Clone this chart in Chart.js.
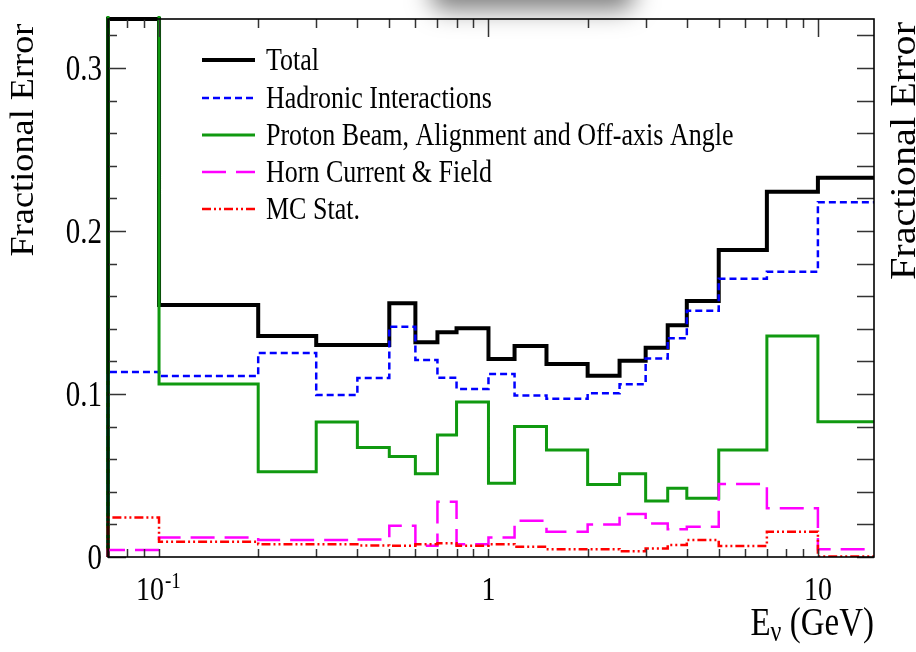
<!DOCTYPE html>
<html>
<head>
<meta charset="utf-8">
<script src="https://cdn.jsdelivr.net/npm/chart.js@4/dist/chart.umd.min.js"></script>
<style>
  html, body { margin: 0; padding: 0; background: #fff; }
  canvas { display: block; }
</style>
</head>
<body>
<canvas id="fluxErr" width="916" height="652"></canvas>
<script>
// bin edges in GeV (log x axis)
var binEdges = [0.07, 0.1, 0.2, 0.3, 0.4, 0.5, 0.6, 0.7, 0.8, 1.0, 1.2, 1.5, 2.0, 2.5, 3.0, 3.5, 4.0, 5.0, 7.0, 10.0, 15.0];

var seriesNames = ['Total', 'Hadronic Interactions', 'Proton Beam, Alignment and Off-axis Angle', 'Horn Current & Field', 'MC Stat.'];

var totalErr    = [0.33, 0.1546, 0.1356, 0.130, 0.130, 0.1556, 0.1317, 0.1379, 0.1403, 0.1215, 0.1294, 0.1184, 0.1112, 0.1204, 0.1284, 0.1421, 0.157, 0.1883, 0.2241, 0.2327];
var hadronErr   = [0.1135, 0.111, 0.1252, 0.0994, 0.1098, 0.1413, 0.1209, 0.110, 0.1031, 0.1123, 0.099, 0.0971, 0.1004, 0.106, 0.1217, 0.1342, 0.1511, 0.1706, 0.175, 0.2176];
var protonErr   = [0.40, 0.1061, 0.0523, 0.0828, 0.0671, 0.0616, 0.0511, 0.0748, 0.0951, 0.0452, 0.080, 0.0656, 0.0444, 0.0511, 0.0344, 0.0421, 0.036, 0.0656, 0.1356, 0.083];
var hornErr     = [0.0043, 0.0119, 0.0104, 0.0104, 0.0108, 0.0192, 0.0069, 0.0339, 0.0078, 0.0119, 0.0223, 0.0155, 0.020, 0.0264, 0.0205, 0.017, 0.0186, 0.0448, 0.0299, 0.0047];
var mcStatErr   = [0.0243, 0.0094, 0.0078, 0.0078, 0.0071, 0.0069, 0.0078, 0.0084, 0.0069, 0.0078, 0.0063, 0.0047, 0.0047, 0.0035, 0.0052, 0.0074, 0.0104, 0.0067, 0.0155, 0.0003];

var yTickLabels = ['0', '0.1', '0.2', '0.3'];
var yTickValues = [0, 0.1, 0.2, 0.3];
var xTickValues = [0.1, 1, 10];

var X_MIN = 0.07, X_MAX = 14.8, Y_MAX = 0.33;
var SY = 1.2; // text in this figure is drawn a bit tall

// histogram outline: up from zero at the first edge, steps, back down at the last edge
function histPoints(vals){
  var pts = [{x: binEdges[0], y: 0}];
  for (var i = 0; i < vals.length; i++) pts.push({x: binEdges[i], y: vals[i]});
  pts.push({x: binEdges[vals.length], y: vals[vals.length - 1]});
  pts.push({x: binEdges[vals.length], y: 0});
  return pts;
}

function txt(ctx, s, x, y, px, align){
  ctx.save();
  ctx.translate(x, y);
  ctx.scale(1, SY);
  ctx.font = px + 'px "Liberation Serif"';
  ctx.textAlign = align;
  ctx.textBaseline = 'alphabetic';
  ctx.fillStyle = '#000';
  ctx.fillText(s, 0, 0);
  ctx.restore();
}

function vtxt(ctx, s, x, y, px, stretch){
  ctx.save();
  ctx.translate(x, y);
  ctx.rotate(-Math.PI / 2);
  ctx.scale(stretch, 1);
  ctx.font = px + 'px "Liberation Serif"';
  ctx.textAlign = 'center';
  ctx.textBaseline = 'alphabetic';
  ctx.fillStyle = '#000';
  ctx.fillText(s, 0, 0);
  ctx.restore();
}

var rootFrame = {
  id: 'rootFrame',
  beforeDraw: function(chart){
    var ctx = chart.ctx;
    ctx.save();
    ctx.fillStyle = '#fff';
    ctx.fillRect(0, 0, chart.width, chart.height);
    // soft grey shadow along the top edge
    ctx.shadowColor = 'rgba(0,0,0,0.5)';
    ctx.shadowBlur = 24;
    ctx.shadowOffsetY = 24;
    ctx.fillStyle = '#888';
    ctx.beginPath();
    ctx.roundRect(430, -50, 205, 36, 16);
    ctx.fill();
    ctx.restore();
  },
  afterDraw: function(chart){
    var ctx = chart.ctx, a = chart.chartArea;
    var xs = chart.scales.x, ys = chart.scales.y;
    ctx.save();

    // ticks
    ctx.strokeStyle = '#333';
    ctx.lineWidth = 1.5;
    ctx.beginPath();
    for (var k = 0; k <= 16; k++){
      var v = k * 0.02;
      if (v > Y_MAX) break;
      var py = Math.round(ys.getPixelForValue(v)) + 0.5;
      var major = (k % 5 === 0);
      ctx.moveTo(a.left, py); ctx.lineTo(a.left + (major ? 18 : 9), py);
      ctx.moveTo(a.right, py); ctx.lineTo(a.right - 17, py);
    }
    for (var dec = 0.01; dec <= 10; dec *= 10){
      for (var m = 1; m <= 9; m++){
        var xv = dec * m;
        if (xv < X_MIN || xv > X_MAX) continue;
        var px = Math.round(xs.getPixelForValue(xv)) + 0.5;
        var isMajor = (m === 1);
        ctx.moveTo(px, a.bottom); ctx.lineTo(px, a.bottom - 8);
        ctx.moveTo(px, a.top); ctx.lineTo(px, a.top + (isMajor ? 18 : 9));
      }
    }
    ctx.stroke();

    // frame
    ctx.strokeStyle = '#000';
    ctx.lineWidth = 1.6;
    ctx.strokeRect(a.left, a.top, a.right - a.left, a.bottom - a.top);

    // y labels
    for (var i = 0; i < yTickValues.length; i++){
      txt(ctx, yTickLabels[i], 102, ys.getPixelForValue(yTickValues[i]) + 12, 29, 'right');
    }
    // x labels
    var p01 = xs.getPixelForValue(xTickValues[0]);
    txt(ctx, '10', p01 + 5, 600, 28, 'right');
    txt(ctx, '-1', p01 + 6, 588, 19, 'left');
    txt(ctx, '1', xs.getPixelForValue(xTickValues[1]), 600, 28, 'center');
    txt(ctx, '10', xs.getPixelForValue(xTickValues[2]), 600, 28, 'center');

    // x title
    ctx.save();
    ctx.font = '33px "Liberation Serif"';
    var wRest = ctx.measureText(' (GeV)').width;
    ctx.font = '24px "Liberation Serif"';
    var wNu = ctx.measureText('\u03bd').width;
    ctx.restore();
    var xr = a.right;
    txt(ctx, ' (GeV)', xr - wRest, 635, 33, 'left');
    txt(ctx, '\u03bd', xr - wRest - wNu, 641, 24, 'left');
    txt(ctx, 'E', xr - wRest - wNu, 635, 33, 'right');

    // y titles
    vtxt(ctx, 'Fractional Error', 33, 140, 33, 1.1);
    vtxt(ctx, 'Fractional Error', 915, 151, 35, 1.15);

    // legend
    var rows = [60, 98, 135, 172, 209];
    chart.data.datasets.forEach(function(ds, j){
      ctx.save();
      ctx.strokeStyle = ds.borderColor;
      ctx.lineWidth = ds.borderWidth;
      ctx.setLineDash(ds.borderDash || []);
      ctx.beginPath();
      ctx.moveTo(202, rows[j]); ctx.lineTo(255, rows[j]);
      ctx.stroke();
      ctx.restore();
      txt(ctx, ds.label, 266, rows[j] + 10, 26, 'left');
    });

    ctx.restore();
  }
};

var ctxFE = document.getElementById('fluxErr');
var edgeClip = { left: 3, top: 3, right: 0, bottom: 0 };

// drawn like ROOT: first dataset at the bottom, later ones over it
var fluxErrChart = new Chart(ctxFE, {
  type: 'line',
  data: {
    datasets: [
      { label: seriesNames[0], data: histPoints(totalErr),  borderColor: '#000000', borderWidth: 4,   order: 5, clip: edgeClip },
      { label: seriesNames[1], data: histPoints(hadronErr), borderColor: '#0000ff', borderWidth: 2.5, borderDash: [7, 4], order: 4, clip: edgeClip },
      { label: seriesNames[2], data: histPoints(protonErr), borderColor: '#109910', borderWidth: 3,   order: 3, clip: edgeClip },
      { label: seriesNames[3], data: histPoints(hornErr),   borderColor: '#ff00ff', borderWidth: 2.5, borderDash: [24, 10], order: 2, clip: edgeClip },
      { label: seriesNames[4], data: histPoints(mcStatErr), borderColor: '#ff0000', borderWidth: 2.5, borderDash: [9, 3, 2, 3, 2, 3], order: 1, clip: edgeClip }
    ]
  },
  options: {
    responsive: false,
    animation: false,
    devicePixelRatio: 1,
    layout: { padding: { left: 108, right: 42, top: 19, bottom: 95 } },
    elements: {
      point: { radius: 0 },
      line: { stepped: 'before', fill: false, tension: 0, borderCapStyle: 'butt', borderJoinStyle: 'miter' }
    },
    scales: {
      x: { type: 'logarithmic', min: X_MIN, max: X_MAX, display: false },
      y: { type: 'linear', min: 0, max: Y_MAX, display: false }
    },
    plugins: {
      legend: { display: false },
      tooltip: { enabled: false }
    }
  },
  plugins: [rootFrame]
});
</script>
</body>
</html>
